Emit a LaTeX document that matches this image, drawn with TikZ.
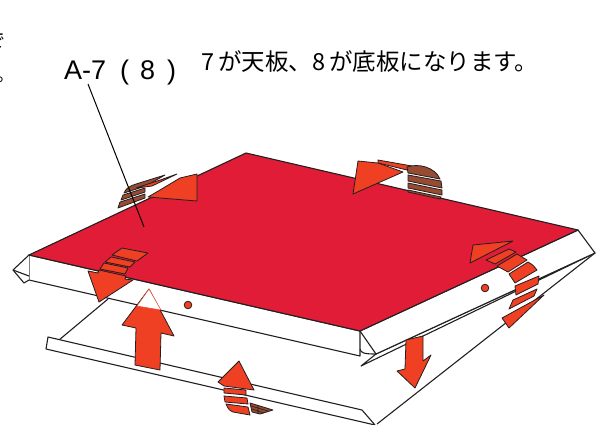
\documentclass[tikz,border=0pt]{standalone}
\usepackage{fontspec}
\setmainfont{Liberation Sans}
\newfontfamily\jpfont{Noto Sans CJK JP}
\definecolor{topred}{HTML}{E01C36}
\definecolor{arroworange}{HTML}{F04023}
\definecolor{bandbrown}{HTML}{964B32}
\definecolor{inkline}{HTML}{231F20}
\begin{document}
\begin{tikzpicture}[
        x=1pt, y=-1pt,
        edge/.style={inkline, line width=1.1pt, line join=round},
        panel/.style={edge, fill=white},
        orange/.style={draw=inkline, line width=0.8pt, fill=arroworange, line join=round},
        brown/.style={draw=inkline, line width=0.8pt, fill=bandbrown, line join=round},
        caption/.style={inner sep=0pt, anchor=base west, text=black},
    ]
    \useasboundingbox (0, 0) rectangle (602, 424);

    % Cut off text at the left border
    \begin{scope}
        \clip (0, 0) rectangle (5, 424);
        \node[caption, anchor=base east] (cutfirst) at (6, 47) {\fontsize{19}{19}\jpfont で};
        \node[caption, anchor=base east] (cutsecond) at (16, 81) {\fontsize{19}{19}\jpfont 。};
    \end{scope}

    % Captions
    \node[caption] (partname) at (64, 79) {\fontsize{27}{27}\selectfont A-7\hspace{14pt}(\hspace{11pt}8\hspace{12pt})};
    \node[caption] (partnote) at (201, 70) {\fontsize{23.5}{24}\jpfont 7\hspace{4pt}が天板、8\hspace{4pt}が底板になります。};

    % Lower board
    \draw[edge] (595, 253) -- (377, 424);
    \draw[edge] (59, 340) -- (108, 299);
    \draw[panel] (48, 337) -- (46, 349) -- (375, 425) -- (362, 410) -- cycle;

    % Flap below the right side
    \draw[panel] (361, 366) -- (376, 354) -- (595, 253) -- cycle;

    % Folded box sides
    \draw[panel] (29, 255) -- (29, 280) -- (360, 356) -- (360, 331) -- cycle;
    \draw[panel] (29, 255) -- (13, 270) -- (24, 283) -- (29, 280);
    \draw[edge] (13, 270) -- (29, 276);
    \draw[panel] (360, 331) -- (578, 230) -- (595, 253) -- (376, 354) -- cycle;
    \draw[edge] (360, 349) .. controls (361, 353) and (364, 354) .. (376, 354);

    % Top plate
    \draw[edge, fill=topred] (29, 255) -- (246, 153) -- (578, 230) -- (360, 331) -- cycle;

    % Holes
    \draw[orange] (188, 305) circle [radius=3.8];
    \draw[orange] (485, 288) circle [radius=3.8];

    % Back left arrow
    \fill[white] (146, 188) -- (162, 189) -- (152, 196) -- (146, 198) -- cycle;
    \draw[brown] (118, 208) -- (120, 202) -- (145, 194) -- (145, 198) -- cycle;
    \draw[brown] (121, 200) -- (123, 195) -- (145, 188) -- (145, 192) -- cycle;
    \draw[brown] (124, 193) .. controls (126, 188) and (130, 186) .. (136, 184) -- (165, 175) -- (146, 186) -- cycle;
    \draw[orange] (136, 188) -- (163, 179) -- (177, 174) -- (152, 186) -- cycle;
    \draw[orange] (197, 174) -- (197, 201) -- (148, 197) -- (160, 190) -- (180, 178) -- cycle;

    % Back right arrow
    \draw[orange] (378, 160) -- (412, 166) -- (407, 170) -- (378, 163) -- cycle;
    \draw[brown] (407, 167) .. controls (418, 163) and (435, 167) .. (440, 179) -- (408, 173) -- cycle;
    \draw[brown] (408, 175) -- (441, 181) -- (442, 188) -- (408, 181) -- cycle;
    \draw[brown] (408, 183) -- (442, 190) -- (442, 195) -- (408, 188) -- cycle;
    \draw[brown] (408, 190) -- (441, 197) -- (440, 199) -- (408, 192) -- cycle;
    \draw[orange] (358, 161) -- (378, 163) -- (403, 172) -- (353, 194) -- cycle;

    % Right arrow
    \draw[orange] (513, 241) -- (473, 245) -- (470, 263) -- cycle;
    \draw[orange] (509, 249) -- (516, 252) -- (495, 264) -- (486, 260) -- cycle;
    \draw[orange] (517, 254) -- (527, 260) -- (508, 272) -- (497, 266) -- cycle;
    \draw[orange] (528, 262) .. controls (533, 265) .. (537, 270) -- (515, 283) -- (509, 274) -- cycle;
    \draw[orange] (539, 276) -- (538, 284) -- (516, 295) -- (515, 286) -- cycle;
    \draw[orange] (537, 289) -- (534, 296) -- (509, 309) -- (513, 300) -- cycle;
    \draw[orange] (544, 295) -- (509, 328) -- (502, 318) -- cycle;

    % Front left arrow
    \draw[orange] (122, 248) -- (148, 253) -- (137, 261) -- (112, 255) -- cycle;
    \draw[orange] (111, 257) -- (135, 262) -- (130, 267) -- (105, 262) -- cycle;
    \draw[orange] (104, 263) -- (128, 268) -- (125, 274) -- (100, 269) -- cycle;
    \draw[orange] (88, 271) -- (98, 273) -- (99, 270) -- (126, 276) -- (125, 279) -- (133, 280) -- (99, 302) -- cycle;

    % Big arrow going up
    \draw[orange] (149, 289) -- (174, 336) -- (161, 333) -- (160, 370) -- (135, 365) -- (136, 328) -- (122, 325) -- cycle;
    \draw[draw=arroworange, line width=0.5pt, fill=white] (149, 289) -- (161, 310) -- (137, 306) -- cycle;

    % Arrow going down
    \draw[orange] (406, 340) -- (423, 336) -- (423, 361) -- (431, 355) -- (415, 388) -- (397, 371) -- (405, 369) -- cycle;

    % Bottom arrow
    \draw[brown] (250, 403) -- (273, 410) -- (260, 414) -- (252, 412) -- cycle;
    \draw[inkline, line width=0.6pt] (251, 406) -- (268, 411) (252, 409) -- (264, 413) (258, 405) -- (258, 414);
    \draw[orange] (224, 388) -- (246, 390) -- (246, 395) -- (224, 393) -- cycle;
    \draw[orange] (224, 396) -- (247, 398) -- (248, 404) -- (225, 402) -- cycle;
    \draw[orange] (226, 404) -- (248, 407) -- (250, 415) -- (233, 412) .. controls (229, 410) .. (226, 404) -- cycle;
    \draw[orange] (239, 361) -- (254, 390) -- (224, 386) -- (218, 382) -- cycle;

    % Leader line
    \coordinate (leadstart) at (88, 84);
    \coordinate (leadend) at (144, 227);
    \draw[black, line width=1pt] (leadstart) -- (leadend);
\end{tikzpicture}
\end{document}
